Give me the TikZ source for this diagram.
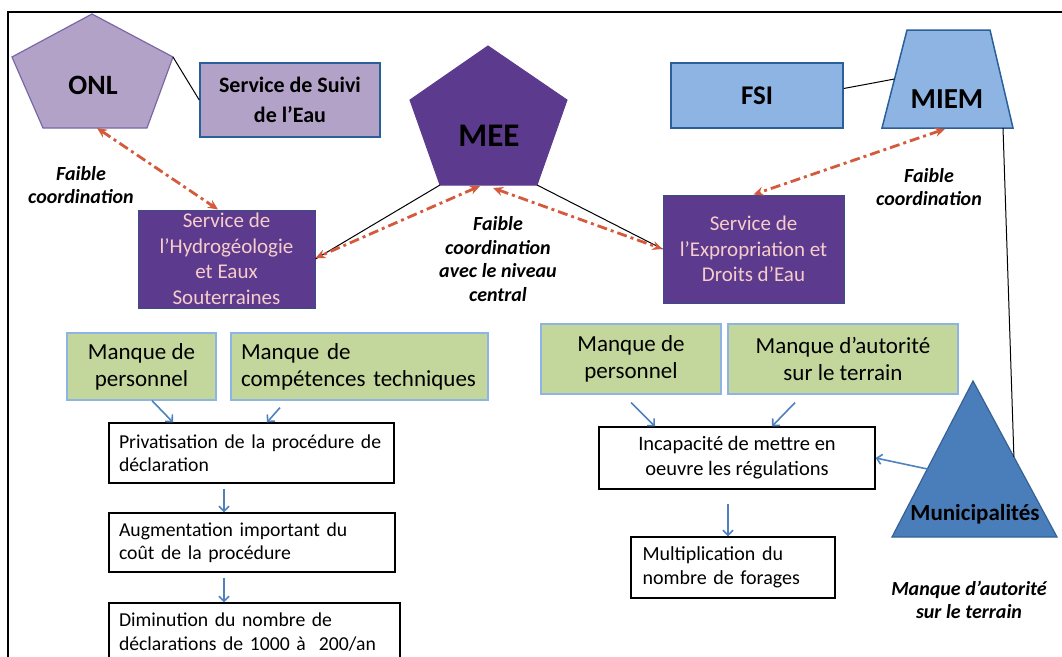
\documentclass[tikz,border=0pt]{standalone}
\usepackage{fontspec}
\setmainfont{Carlito}
\usetikzlibrary{arrows.meta,calc}
\definecolor{lpurple}{HTML}{B3A2C7}
\definecolor{lpurpbd}{HTML}{7A68A6}
\definecolor{dpurple}{HTML}{5C3A8E}
\definecolor{dpurpbd}{HTML}{3A4E86}
\definecolor{pinktext}{HTML}{F6CDC8}
\definecolor{lblue}{HTML}{8EB4E3}
\definecolor{lbluebd}{HTML}{2A6099}
\definecolor{munic}{HTML}{4A7EBB}
\definecolor{municbd}{HTML}{356196}
\definecolor{greenf}{HTML}{C3D69B}
\definecolor{greenbd}{HTML}{8DB4E2}
\definecolor{redc}{HTML}{D45A3C}
\definecolor{arrblue}{HTML}{4F81BD}
\tikzset{
  frameline/.style={line width=2pt, black},
  lpbox/.style={draw=lbluebd, line width=1.5pt, fill=lpurple, inner sep=0pt, align=center, font={\fontsize{22pt}{30pt}\selectfont\bfseries}},
  dpbox/.style={draw=dpurpbd, line width=1pt, fill=dpurple, inner sep=0pt, align=center, text=pinktext, font={\fontsize{21pt}{25.5pt}\selectfont}},
  lbbox/.style={draw=lbluebd, line width=1.5pt, fill=lblue, inner sep=0pt, align=center, font={\fontsize{27pt}{30pt}\selectfont\bfseries}},
  gbox/.style={draw=greenbd, line width=1.2pt, fill=greenf, inner sep=0pt, font={\fontsize{23pt}{27pt}\selectfont}},
  wbox/.style={draw=black, line width=1.3pt, fill=white, font={\fontsize{19.7pt}{23.5pt}\selectfont}},
  shapetxt/.style={inner sep=0pt, font={\bfseries}},
  lbl/.style={inner sep=0pt, align=center, font={\fontsize{20pt}{23.5pt}\selectfont\bfseries\itshape}},
  thinline/.style={draw=black, line width=1pt},
  coordarrow/.style={draw=redc, line width=2.8pt, dash pattern=on 10pt off 4pt on 3pt off 4pt, {Stealth[length=10pt,width=9pt]}-{Stealth[length=10pt,width=9pt]}},
  bluearrow/.style={draw=arrblue, line width=1.6pt, -{Straight Barb[length=5pt,width=10pt]}}
}
\begin{document}
\begin{tikzpicture}[x=1pt,y=-1pt]
\useasboundingbox (0,0) rectangle (1062,656);
% frame
\coordinate (frTL) at (8,12);
\coordinate (frTR) at (1064,12);
\coordinate (frBL) at (8,660);
\draw[frameline] (frTR) -- (frTL) -- (frBL);

% ONL pentagon
\coordinate (onlT) at (92,14);
\coordinate (onlR) at (173,57);
\coordinate (onlBR) at (147,128);
\coordinate (onlBL) at (43,128);
\coordinate (onlL) at (12,57);
\draw[fill=lpurple, draw=lpurpbd, line width=1.2pt] (onlT) -- (onlR) -- (onlBR) -- (onlBL) -- (onlL) -- cycle;
\node[shapetxt, font={\fontsize{28pt}{32pt}\selectfont\bfseries}] (onl) at (93,85) {ONL};
\coordinate (onlbot) at (97,128);

% MEE pentagon
\coordinate (meeT) at (488,46);
\coordinate (meeR) at (567,100);
\coordinate (meeBR) at (537,185);
\coordinate (meeBL) at (440,185);
\coordinate (meeL) at (410,100);
\draw[fill=dpurple, draw=dpurple, line width=1pt] (meeT) -- (meeR) -- (meeBR) -- (meeBL) -- (meeL) -- cycle;
\node[shapetxt, font={\fontsize{33pt}{36pt}\selectfont\bfseries}] (mee) at (489,136) {MEE};
\coordinate (meebotA) at (480,186);
\coordinate (meebotB) at (493,188);

% MIEM trapezoid
\coordinate (miemTL) at (907,30);
\coordinate (miemTR) at (990,30);
\coordinate (miemBR) at (1013,128);
\coordinate (miemBL) at (882,128);
\draw[fill=lblue, draw=lbluebd, line width=1.5pt] (miemTL) -- (miemTR) -- (miemBR) -- (miemBL) -- cycle;
\node[shapetxt, font={\fontsize{29pt}{32pt}\selectfont\bfseries}] (miem) at (947,99) {MIEM};
\coordinate (miemleft) at ($(miemTL)!0.5!(miemBL)$);
\coordinate (miembotA) at (945,129);
\coordinate (miembotB) at (1003,128);

% Municipalites triangle
\coordinate (muniT) at (973,381);
\coordinate (muniBL) at (892,537);
\coordinate (muniBR) at (1057,537);
\draw[fill=munic, draw=municbd, line width=1.2pt] (muniT) -- (muniBR) -- (muniBL) -- cycle;
\node[shapetxt, font={\fontsize{23pt}{26pt}\selectfont\bfseries}] (muni) at (975,514) {Municipalités};
\coordinate (muniright) at ($(muniT)!0.487!(muniBR)$);
\coordinate (munileft) at ($(muniT)!0.564!(muniBL)$);

% boxes top
\node[lpbox, minimum width=180pt, minimum height=74pt] (suivi) at (290,100) {Service de Suivi\\de l’Eau};
\node[lbbox, minimum width=172pt, minimum height=65pt] (fsi) at (757,95.5) {FSI};
\node[dpbox, minimum width=177pt, minimum height=98pt] (hydro) at (226.5,259) {Service de\\l’Hydrogéologie\\et Eaux\\Souterraines};
\node[dpbox, minimum width=181pt, minimum height=108pt] (expro) at (753.5,249) {Service de\\l’Expropriation et\\Droits d’Eau};

% green boxes
\node[gbox, align=center, minimum width=149pt, minimum height=67pt] (mp1) at (141.5,366.5) {Manque de\\personnel};
\node[gbox, align=left, text width=237pt, inner xsep=10pt, minimum height=67pt] (mc) at (359.5,366.5) {Manque de\\compétences~techniques};
\node[gbox, align=center, minimum width=180pt, minimum height=70pt] (mp2) at (631,359) {Manque de\\personnel};
\node[gbox, align=center, minimum width=230pt, minimum height=70pt] (ma) at (843,359) {Manque d’autorité\\sur le terrain};

% white boxes
\node[wbox, align=left, text width=265pt, inner xsep=10pt, inner ysep=0pt, minimum height=60pt] (priv) at (251.5,453) {Privatisation de la procédure de\\déclaration};
\node[wbox, align=left, text width=266pt, inner xsep=10pt, inner ysep=0pt, minimum height=59pt] (aug) at (252,542.5) {Augmentation important du\\coût de la procédure};
\node[wbox, align=left, text width=271pt, inner xsep=10pt, inner ysep=0pt, minimum height=58pt] (dim) at (254.5,632) {Diminution du nombre de\\déclarations de 1000 à~~200/an};
\node[wbox, align=center, minimum width=276pt, minimum height=62pt, inner sep=0pt, font={\fontsize{20.5pt}{25pt}\selectfont}] (inc) at (737,458) {Incapacité de mettre en\\oeuvre les régulations};
\node[wbox, align=left, text width=181pt, inner xsep=11.5pt, inner ysep=0pt, minimum height=61pt, font={\fontsize{20pt}{24pt}\selectfont}] (mul) at (733,567.5) {Multiplication du\\nombre de forages};

% labels
\node[lbl] (lblL) at (81,185) {Faible\\coordination};
\node[lbl] (lblC) at (498,259) {Faible\\coordination\\avec le niveau\\central};
\node[lbl] (lblR) at (929,187) {Faible\\coordination};
\node[lbl] (lblM) at (969,600) {Manque d’autorité\\sur le terrain};

% black lines
\draw[thinline] (onlR) -- (suivi.west);
\draw[thinline] ([yshift=7pt]fsi.east) -- (miemleft);
\draw[thinline] (miembotB) -- (muniright);
\draw[thinline] (meeBL) -- (hydro.east);
\draw[thinline] (meeBR) -- (expro.west);

% coordination arrows
\draw[coordarrow] (onlbot) -- ([xshift=-8.5pt]hydro.north);
\draw[coordarrow] (meebotA) -- ([yshift=1pt]hydro.east);
\draw[coordarrow] (meebotB) -- (expro.west);
\draw[coordarrow] (miembotA) -- (expro.north);

% blue arrows
\draw[bluearrow] ([xshift=10.5pt]mp1.south) -- ([xshift=-78.5pt]priv.north);
\draw[bluearrow] ([xshift=-79.5pt,yshift=-7pt]mc.south) -- ([xshift=15.5pt]priv.north);
\draw[bluearrow] ([xshift=-27.5pt,yshift=-5pt]priv.south) -- ([xshift=-28pt]aug.north);
\draw[bluearrow] ([xshift=-28pt,yshift=-5pt]aug.south) -- ([xshift=-30.5pt]dim.north);
\draw[bluearrow] ([yshift=-8pt]mp2.south) -- ([xshift=-82pt]inc.north);
\draw[bluearrow] ([xshift=-48pt,yshift=-8pt]ma.south) -- ([xshift=35pt]inc.north);
\draw[bluearrow] ([xshift=-9pt,yshift=-14pt]inc.south) -- ([xshift=-5pt]mul.north);
\draw[bluearrow] (munileft) -- (inc.east);
\end{tikzpicture}
\end{document}
